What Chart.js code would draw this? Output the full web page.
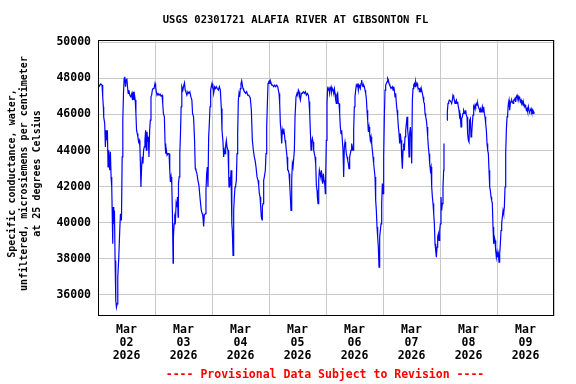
<!DOCTYPE html>
<html>
<head>
<meta charset="utf-8">
<script src="https://cdn.jsdelivr.net/npm/chart.js@4.4.0/dist/chart.umd.min.js"></script>
<style>
html, body { margin: 0; padding: 0; background: #fff; }
</style>
</head>
<body>
<canvas id="myChart" width="576" height="384"></canvas>
<script>
// Chart labels
const chartTitle = 'USGS 02301721 ALAFIA RIVER AT GIBSONTON FL';
const yTitle = ['Specific conductance, water,', 'unfiltered, microsiemens per centimeter', 'at 25 degrees Celsius'];
const footNote = '---- Provisional Data Subject to Revision ----';
const monthLabel = 'Mar';
const yearLabel = '2026';
const dayLabels = ['02', '03', '04', '05', '06', '07', '08', '09'];
const yTicks = [36000, 38000, 40000, 42000, 44000, 46000, 48000, 50000];

// Hours since Mar 02 2026 00:00
const hours = [
  0.0, 0.56, 1.13, 1.69, 1.98, 2.26, 2.40, 2.82, 3.11, 3.39, 3.67, 3.95, 4.24, 4.52, 4.94, 5.22, 5.51, 5.79,
  6.21, 6.35, 6.64, 6.92, 7.20, 7.48, 7.77, 8.05, 8.33, 8.75, 9.18, 9.46, 9.88, 10.17, 10.45, 10.73, 11.01,
  11.30, 11.58, 11.86, 12.14, 12.43, 12.71, 12.99, 13.41, 13.84, 14.26, 14.54, 14.83, 15.11, 15.39, 15.67,
  15.96, 16.24, 16.52, 16.80, 17.09, 17.37, 17.65, 17.93, 18.07, 18.36, 18.64, 18.92, 19.20, 19.48, 19.77,
  20.05, 20.33, 20.62, 20.90, 21.18, 21.46, 21.74, 22.03, 22.31, 22.59, 22.87, 23.16, 23.58, 24.00,
  // Mar 03
  24.28, 24.56, 24.85, 25.27, 25.69, 26.12, 26.54, 26.97, 27.25, 27.53, 27.95, 28.24, 28.52, 28.80, 29.08,
  29.51, 29.93, 30.21, 30.49, 30.78, 31.06, 31.34, 31.62, 31.76, 32.05, 32.33, 32.61, 32.89, 33.18, 33.46,
  33.74, 33.88, 34.16, 34.45, 34.73, 35.01, 35.29, 35.72, 36.14, 36.42, 36.71, 36.99, 37.41, 37.84, 38.26,
  38.68, 39.11, 39.53, 39.81, 40.24, 40.66, 40.95, 41.23, 41.65, 42.07, 42.50, 42.92, 43.20, 43.49, 43.91,
  44.19, 44.48, 44.76, 45.18, 45.46, 45.75, 46.03, 46.31, 46.59, 46.88, 47.16, 47.44, 47.72, 48.00,
  // Mar 04
  48.14, 48.42, 48.70, 49.12, 49.54, 49.83, 50.25, 50.67, 51.09, 51.51, 51.93, 52.21, 52.63, 52.91, 53.19,
  53.48, 53.76, 54.04, 54.32, 54.74, 55.02, 55.16, 55.44, 55.72, 56.00, 56.28, 56.42, 56.56, 56.85, 57.13,
  57.41, 57.69, 57.97, 58.25, 58.53, 58.81, 59.09, 59.37, 59.65, 59.93, 60.21, 60.50, 60.78, 61.06, 61.34,
  61.76, 62.18, 62.60, 63.02, 63.44, 63.87, 64.15, 64.57, 64.99, 65.41, 65.83, 66.25, 66.53, 66.95, 67.38,
  67.66, 67.94, 68.22, 68.50, 68.78, 69.06, 69.20, 69.48, 69.76, 70.04, 70.46, 70.74, 71.03, 71.31, 71.59,
  71.87,
  // Mar 05
  72.15, 72.43, 72.71, 73.13, 73.55, 73.97, 74.40, 74.82, 75.24, 75.66, 75.94, 76.22, 76.50, 76.78, 77.06,
  77.34, 77.63, 77.91, 78.19, 78.47, 78.75, 79.03, 79.31, 79.59, 79.87, 80.15, 80.43, 80.71, 80.99, 81.27,
  81.56, 81.84, 82.12, 82.40, 82.68, 82.96, 83.38, 83.80, 84.08, 84.36, 84.64, 84.93, 85.21, 85.63, 86.05,
  86.47, 86.89, 87.31, 87.73, 88.15, 88.58, 88.86, 89.14, 89.42, 89.70, 89.98, 90.26, 90.54, 90.82, 91.10,
  91.38, 91.66, 91.95, 92.23, 92.37, 92.65, 92.93, 93.21, 93.49, 93.77, 94.05, 94.33, 94.61, 94.89, 95.17,
  95.45, 95.73, 95.86,
  // Mar 06
  96.14, 96.42, 96.70, 96.98, 97.26, 97.54, 97.83, 98.11, 98.39, 98.67, 98.95, 99.23, 99.51, 99.79, 100.07,
  100.35, 100.63, 100.91, 101.19, 101.48, 101.76, 102.04, 102.32, 102.60, 102.88, 103.16, 103.44, 103.72,
  104.00, 104.28, 104.56, 104.85, 105.13, 105.41, 105.69, 105.97, 106.25, 106.53, 106.81, 107.09, 107.37,
  107.65, 107.93, 108.21, 108.50, 108.78, 109.06, 109.34, 109.62, 109.90, 110.18, 110.46, 110.74, 111.02,
  111.30, 111.58, 111.87, 112.15, 112.43, 112.71, 112.99, 113.27, 113.55, 113.83, 114.11, 114.39, 114.67,
  114.95, 115.23, 115.52, 115.80, 116.08, 116.36, 116.64, 116.92, 117.20, 117.48, 117.76, 118.04, 118.32,
  118.60, 118.89, 119.17, 119.45, 119.73,
  // Mar 07
  120.01, 120.29, 120.57, 120.85, 121.13, 121.41, 121.69, 121.97, 122.25, 122.54, 122.82, 123.10, 123.38,
  123.66, 123.94, 124.22, 124.50, 124.78, 125.06, 125.34, 125.62, 125.91, 126.19, 126.47, 126.75, 127.03,
  127.31, 127.59, 127.87, 128.15, 128.43, 128.71, 128.99, 129.27, 129.56, 129.84, 130.12, 130.40, 130.68,
  130.96, 131.24, 131.52, 131.80, 132.08, 132.36, 132.64, 132.93, 133.21, 133.49, 133.77, 134.05, 134.33,
  134.61, 134.89, 135.17, 135.45, 135.73, 136.01, 136.29, 136.58, 136.86, 137.14, 137.42, 137.70, 137.98,
  138.26, 138.54, 138.82, 139.10, 139.38, 139.66, 139.95, 140.23, 140.51, 140.79, 141.07, 141.35, 141.63,
  141.91, 142.19, 142.47, 142.75, 143.03, 143.31, 143.60, 143.88,
  // Mar 08
  144.14, 144.42, 144.70, 144.98, 145.26, 145.54, 145.68, 146.30, 146.95, 147.09, 147.37, 147.65, 147.93,
  148.21, 148.63, 148.91, 149.19, 149.48, 149.76, 150.04, 150.32, 150.60, 150.88, 151.16, 151.44, 151.72,
  152.00, 152.28, 152.56, 152.85, 153.13, 153.41, 153.69, 153.97, 154.25, 154.53, 154.81, 155.09, 155.37,
  155.65, 155.93, 156.21, 156.50, 156.78, 157.06, 157.34, 157.62, 157.90, 158.18, 158.46, 158.74, 159.02,
  159.30, 159.58, 159.87, 160.15, 160.43, 160.71, 160.99, 161.27, 161.55, 161.83, 162.11, 162.39, 162.67,
  162.95, 163.23, 163.52, 163.80, 164.08, 164.36, 164.64, 164.92, 165.20, 165.48, 165.76, 166.04, 166.32,
  166.60, 166.89, 167.17, 167.45, 167.73,
  // Mar 09
  168.01, 168.29, 168.57, 168.85, 169.13, 169.41, 169.69, 169.97, 170.25, 170.54, 170.82, 171.10, 171.38,
  171.66, 171.94, 172.22, 172.50, 172.78, 173.06, 173.34, 173.62, 173.91, 174.19, 174.47, 174.75, 175.03,
  175.31, 175.59, 175.87, 176.15, 176.43, 176.71, 176.99, 177.27, 177.56, 177.84, 178.12, 178.40, 178.68,
  178.96, 179.24, 179.52, 179.80, 180.08, 180.36, 180.64, 180.93, 181.21, 181.49, 181.77, 182.05, 182.33,
  182.61, 182.89, 183.17, 183.45, 183.73
];

// Specific conductance, uS/cm at 25 C (null = missing record)
const conductance = [
  47720, 47570, 47690, 47630, 46980, 46430, 45870, 45500, 44200, 45130, 44570, 45130, 43090, 44020, 42910, 43930, 42540, 41980,
  38830, 40870, 39940, 40680, 37910, 35690, 35310, 35500, 36980, 38090, 39670, 40500, 40130, 43650, 45690, 47170, 48000,
  48090, 47540, 47910, 48000, 47540, 47170, 47350, 47070, 46980, 47170, 46800, 47260, 46800, 47070, 46800,
  46060, 45130, 44940, 44760, 44480, 44570, 44200, 42910, 41980, 43090, 43650, 43280, 44020, 44200, 44570,
  45130, 44020, 45040, 44480, 44760, 43650, 45130, 45690, 46980, 47070, 47350, 47440, 47440, 47720,
  // Mar 03
  47540, 47260, 47070, 47170, 47070, 47130, 47020, 47070, 46610, 46060, 45870, 44390, 43830, 44020, 43740,
  43830, 43830, 42910, 42260, 42540, 42170, 40500, 37760, 39200, 39940, 40310, 40130, 41060, 40870, 41430,
  40310, 42170, 42540, 43830, 44940, 46430, 47540, 47350, 47630, 47760, 47350, 47260, 47070, 47260, 47170,
  47260, 46980, 46800, 46060, 45870, 44570, 43000, 42910, 42720, 42350, 42070, 41430, 41060, 40680, 40500,
  40310, 39800, 40410, 40500, 41800, 42720, 43090, 41980, 44760, 45500, 46430, 47350, 47570, 47720,
  // Mar 04
  47440, 47720, 47170, 47540, 47440, 47540, 47440, 47350, 47540, 47350, 46330, 45130, 44480, 43650, 44020,
  43830, 44300, 44570, 44200, 44020, 42720, 41980, 42540, 42070, 42910, 41980, 39940, 39570, 38190, 40680,
  41430, 41980, 42070, 42350, 43830, 44940, 46800, 47170, 46980, 47440, 47720, 47870, 47630, 47440, 47350,
  47260, 47170, 47260, 47070, 47070, 46980, 46890, 46240, 44570, 44020, 43650, 43370, 43090, 42540, 42350,
  42070, 41610, 41430, 40870, 40310, 40160, 40870, 41060, 42350, 42540, 42910, 43830, 45310, 46610, 47720,
  47810,
  // Mar 05
  47870, 47720, 47810, 47630, 47630, 47540, 47630, 47540, 47630, 47540, 47350, 47170, 46610, 45500, 45130,
  44390, 45130, 44940, 45220, 44940, 44570, 44390, 44020, 43650, 42910, 42910, 42720, 42170, 41430, 40680,
  42350, 43280, 43090, 43090, 44020, 45870, 46980, 47170, 47070, 47350, 47260, 46980, 46800, 47170, 47170,
  47260, 47170, 47260, 47070, 47170, 47070, 46700, 46060, 45040, 44020, 44480, 44670, 44480, 44020, 43830,
  43650, 43280, 42070, 41800, 41430, 41060, 42350, 42910, 42720, 42540, 42910, 42540, 42170, 42720, 42350,
  42170, 41610, 42540,
  // Mar 06
  44570, 46610, 47440, 47350, 47540, 47170, 47440, 47540, 47260, 47440, 47350, 47260, 47440, 47170, 46800,
  46610, 47070, 47170, 46610, 46610, 46060, 45310, 44940, 45130, 44570, 44020, 42540, 44200,
  44480, 44200, 43830, 43650, 43460, 43280, 43000, 43650, 43830, 44020, 44390, 44200, 44020,
  45130, 46430, 46980, 47350, 47630, 47540, 47720, 47350, 47630, 47540, 47440, 47720, 47910,
  47630, 47540, 47630, 47540, 47350, 47170, 46890, 46240, 45690, 45040, 45310, 44940, 44570,
  44760, 44390, 44020, 43650, 43280, 42910, 42540, 41240, 40680, 39760, 39200, 38650, 37540,
  39200, 39570, 39940, 41060, 42170,
  // Mar 07
  41610, 43650, 45870, 47350, 47630, 47720, 47810, 48000, 47910, 47720, 47630, 47540, 47440,
  47440, 47540, 47350, 47540, 47350, 46980, 47170, 46610, 46240, 45870, 45310, 44940, 44390,
  44940, 44570, 43650, 43000, 44020, 44390, 44020, 44760, 45130, 45500, 45870, 45130, 44760,
  43650, 44940, 45310, 44760, 43280, 46800, 47440, 47630, 47720, 47540, 47810, 47630, 47720,
  47540, 47440, 47440, 47350, 47440, 47260, 47350, 47170, 46980, 46700, 46610, 46060, 45870,
  45690, 45310, 44760, 44200, 43830, 43280, 42910, 43090, 41980, 41430, 41060, 40500, 39940,
  38830, 38460, 38090, 38650, 39200, 39390, 39020, 39570,
  // Mar 08
  39940, 41430, 40680, 41060, 41980, 42910, 44390, null, 45690, 46150, 46610, 46700, 46800,
  46760, 46700, 46610, 46800, 47070, 46980, 46800, 46610, 46700, 46800, 46610, 46700, 46430,
  46240, 45870, 45960, 45310, 45780, 45870, 46060, 46240, 46150, 46060, 46240, 45960, 45870,
  44940, 44570, 44480, 45690, 45780, 44760, 44940, 45500, 45960, 46430, 46330, 46520, 46430,
  46610, 46520, 46610, 46430, 46330, 46240, 46330, 46150, 46240, 46430, 46150, 46430, 46060,
  45870, 45500, 45130, 44390, 44020, 43830, 42910, 41980, 41800, 41430, 41240, 41060, 39760,
  38830, 39200, 39020, 38460, 38090,
  // Mar 09
  38370, 38090, 38280, 37820, 38280, 38830, 39570, 39940, 40310, 40680, 40500, 40870, 41980,
  43830, 45130, 45870, 46060, 46610, 46800, 46240, 46610, 46700, 46800, 46700, 46610, 46800,
  46800, 46890, 46700, 46980, 47070, 46890, 46800, 46980, 46890, 46700, 46800, 46610, 46700,
  46520, 46610, 46430, 46520, 46430, 46240, 46330, 46150, 46430, 46240, 46150, 46240, 46330,
  46150, 46240, 46060, 46150, 46060
];

const monoFont = '"DejaVu Sans Mono", "Liberation Mono", monospace';

// Title, axis title, footnote and plot frame
const usgsText = {
  id: 'usgsText',
  afterDraw(chart) {
    const c = chart.ctx;
    const a = chart.chartArea;
    c.save();
    c.strokeStyle = '#000';
    c.lineWidth = 1;
    c.strokeRect(a.left + 0.5, a.top + 0.5, a.right - a.left - 1, a.bottom - a.top - 1);

    c.fillStyle = '#000';
    c.textAlign = 'center';
    c.textBaseline = 'middle';
    c.font = 'bold 10.5px ' + monoFont;
    c.fillText(chartTitle, 295.5, 20.5);

    c.font = 'bold 10px ' + monoFont;
    yTitle.forEach((line, i) => {
      c.save();
      c.translate(12 + i * 12.5, 173.5);
      c.rotate(-Math.PI / 2);
      c.fillText(line, 0, 0);
      c.restore();
    });

    c.fillStyle = '#ff0000';
    c.font = 'bold 11.5px ' + monoFont;
    c.fillText(footNote, 325, 375.5);
    c.restore();
  }
};

const tickFont = { family: monoFont, size: 11.5, weight: 'bold', lineHeight: '13px' };

const ctx = document.getElementById('myChart').getContext('2d');
const myChart = new Chart(ctx, {
  type: 'line',
  data: {
    datasets: [{
      data: hours.map((h, i) => ({ x: h, y: conductance[i] })),
      borderColor: '#0000ff',
      borderWidth: 1.2,
      pointRadius: 0,
      tension: 0,
      spanGaps: false
    }]
  },
  options: {
    responsive: false,
    animation: false,
    layout: { padding: { top: 40, right: 22, left: 0, bottom: 0 } },
    plugins: {
      legend: { display: false },
      tooltip: { enabled: false }
    },
    scales: {
      x: {
        type: 'linear',
        min: 0,
        max: 192,
        afterBuildTicks: scale => {
          const t = [];
          for (let v = 0; v <= 192; v += 12) t.push({ value: v });
          scale.ticks = t;
        },
        afterFit: scale => { scale.height = 68; },
        grid: {
          drawTicks: false,
          color: c => (c.tick && c.tick.value % 24 === 0) ? '#c8c8c8' : 'rgba(0,0,0,0)'
        },
        border: { display: false },
        ticks: {
          autoSkip: false,
          maxRotation: 0,
          padding: 7.5,
          color: '#000',
          font: tickFont,
          callback: v => (v % 24 === 12) ? [monthLabel, dayLabels[(v - 12) / 24], yearLabel] : ''
        }
      },
      y: {
        min: 34830,
        max: 50130,
        afterBuildTicks: scale => { scale.ticks = yTicks.map(v => ({ value: v })); },
        afterFit: scale => { scale.width = 98; },
        grid: { drawTicks: false, color: '#c8c8c8' },
        border: { display: false },
        ticks: {
          padding: 7,
          color: '#000',
          font: tickFont,
          callback: v => String(v)
        }
      }
    }
  },
  plugins: [usgsText]
});
</script>
</body>
</html>
